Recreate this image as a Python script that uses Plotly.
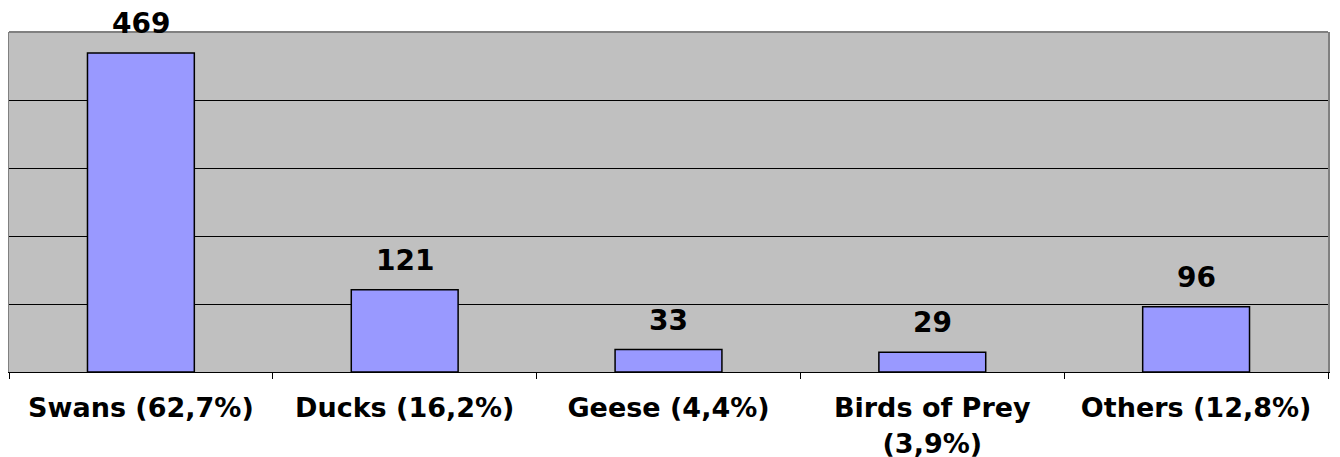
import plotly.graph_objects as go

categories = ["Swans (62,7%)", "Ducks (16,2%)", "Geese (4,4%)", "Birds of Prey<br>(3,9%)", "Others (12,8%)"]
values = [469, 121, 33, 29, 96]

FONT = "DejaVu Sans"

fig = go.Figure()
fig.add_trace(go.Bar(
    x=categories, y=values,
    marker=dict(color="#9999FF", line=dict(color="black", width=1.5)),
    width=0.405,
    hoverinfo="skip",
))

for c, v in zip(categories, values):
    fig.add_annotation(
        x=c, y=v, text=f"<b>{v}</b>", showarrow=False,
        yanchor="bottom", yshift=11,
        font=dict(family=FONT, size=28, color="black"),
    )

# The page body has an 8px margin, so the figure is sized to fill the rest of the window
fig.update_layout(
    width=1332, height=449,
    margin=dict(l=1, r=12, t=24, b=85, autoexpand=False),
    paper_bgcolor="white",
    plot_bgcolor="#C0C0C0",
    showlegend=False,
    bargap=0.595,
    xaxis=dict(
        type="category", automargin=False,
        showline=True, linecolor="black", linewidth=1,
        ticks="outside", tickson="boundaries", ticklen=6, tickcolor="black", tickwidth=1,
        showgrid=False,
        tickfont=dict(family=FONT, size=27, color="black"),
        tickprefix="<b>", ticksuffix="</b>",
        ticklabelstandoff=12,
    ),
    yaxis=dict(
        range=[0, 500], dtick=100, automargin=False,
        showgrid=True, gridcolor="black", gridwidth=1,
        showticklabels=False,
        showline=True, linecolor="#808080", linewidth=2, mirror=True,
        zeroline=False,
    ),
)

fig.add_shape(type="line", xref="paper", yref="paper", x0=0, x1=1, y0=1, y1=1,
              line=dict(color="#808080", width=2))

fig.write_html("out.html")
